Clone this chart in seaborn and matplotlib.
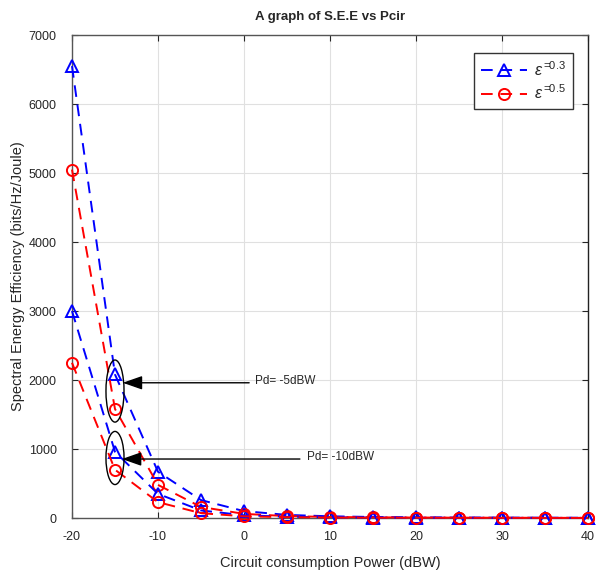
import matplotlib
matplotlib.use("Agg")
import matplotlib.pyplot as plt
import seaborn as sns
import pandas as pd
from matplotlib.patches import Ellipse

# Circuit consumption power (dBW)
pcir = [-20, -15, -10, -5, 0, 5, 10, 15, 20, 25, 30, 35, 40]

# Spectral energy efficiency (bits/Hz/Joule)
see_eps03_pd5 = [6550, 2080, 670, 260, 100, 45, 25, 15, 10, 7, 5, 4, 3]
see_eps05_pd5 = [5050, 1580, 480, 160, 60, 28, 15, 10, 7, 5, 4, 3, 2]
see_eps03_pd10 = [3000, 960, 350, 110, 40, 18, 10, 7, 5, 4, 3, 2, 2]
see_eps05_pd10 = [2250, 700, 230, 70, 25, 12, 7, 5, 4, 3, 2, 2, 1]

legend_labels = [r"$\epsilon^{=\!\!0.3}$", r"$\epsilon^{=\!\!0.5}$"]
xticks = [-20, -10, 0, 10, 20, 30, 40]
yticks = [0, 1000, 2000, 3000, 4000, 5000, 6000, 7000]

sns.set_theme(style="whitegrid")
plt.rcParams["font.family"] = ["Liberation Sans", "DejaVu Sans"]
plt.rcParams["mathtext.fontset"] = "custom"
plt.rcParams["mathtext.rm"] = "Liberation Sans"
plt.rcParams["mathtext.it"] = "Liberation Sans:italic"

fig = plt.figure(figsize=(5.96, 5.75), dpi=100)
ax = fig.add_axes([0.1208, 0.0991, 0.8658, 0.8400])

series = [
    (see_eps03_pd5, "blue", "^", 9),
    (see_eps05_pd5, "red", "o", 8),
    (see_eps03_pd10, "blue", "^", 9),
    (see_eps05_pd10, "red", "o", 8),
]
for vals, col, mk, ms in series:
    df = pd.DataFrame({"Pcir": pcir, "SEE": vals})
    sns.lineplot(data=df, x="Pcir", y="SEE", ax=ax, color=col, marker=mk,
                 markersize=ms, markerfacecolor="none", markeredgecolor=col,
                 markeredgewidth=1.4, linewidth=1.4, dashes=(6, 4),
                 clip_on=False, zorder=3)

ax.set_xlim(-20, 40)
ax.set_ylim(0, 7000)
ax.set_xticks(xticks)
ax.set_yticks(yticks)
ax.set_xticklabels([str(v) for v in xticks])
ax.set_yticklabels([str(v) for v in yticks])

ax.grid(True, color="#e0e0e0", linewidth=0.8)
for side, sp in ax.spines.items():
    sp.set_visible(True)
    sp.set_linewidth(1.0)
    sp.set_color("#555555" if side in ("left", "bottom", "top") else "#222222")
ax.tick_params(axis="both", direction="in", length=4, width=0.8,
               colors="#262626", labelsize=9, top=True, right=True,
               bottom=True, left=True)
ax.tick_params(axis="x", pad=9)
ax.tick_params(axis="y", pad=11)

ax.set_xlabel("Circuit consumption Power (dBW)", fontsize=10.5, color="#262626", labelpad=10)
ax.set_ylabel("Spectral Energy Efficiency (bits/Hz/Joule)", fontsize=10.5, color="#262626", labelpad=3)
ax.set_title("A graph of S.E.E vs Pcir", fontsize=9.5, fontweight="bold", pad=11)

# Group markers at Pcir = -15 dBW
ax.add_patch(Ellipse((-15, 1840), 2.1, 900, fill=False, edgecolor="black", linewidth=1.0, zorder=4))
ax.add_patch(Ellipse((-15, 870), 2.1, 770, fill=False, edgecolor="black", linewidth=1.0, zorder=4))

arrow = dict(arrowstyle="-|>,head_length=1.0,head_width=0.35", color="black", linewidth=1.0,
             shrinkA=0, shrinkB=0)
ax.annotate("", xy=(-14.1, 1960), xytext=(0.6, 1960), arrowprops=arrow, zorder=5)
ax.text(1.3, 1990, "Pd= -5dBW", fontsize=8.5, va="center", ha="left")
ax.annotate("", xy=(-14.2, 855), xytext=(6.5, 855), arrowprops=arrow, zorder=5)
ax.text(7.3, 880, "Pd= -10dBW", fontsize=8.5, va="center", ha="left")

lines = ax.get_lines()
leg = ax.legend(handles=lines[:2], labels=legend_labels, loc="upper right",
                bbox_to_anchor=(0.971, 0.963), borderaxespad=0, fontsize=11.5,
                frameon=True, fancybox=False, edgecolor="#333333", framealpha=1,
                handlelength=2.9, handletextpad=0.4, borderpad=0.45, labelspacing=0.3)
leg.get_frame().set_linewidth(1.0)

fig.savefig("out.png", dpi=100)
